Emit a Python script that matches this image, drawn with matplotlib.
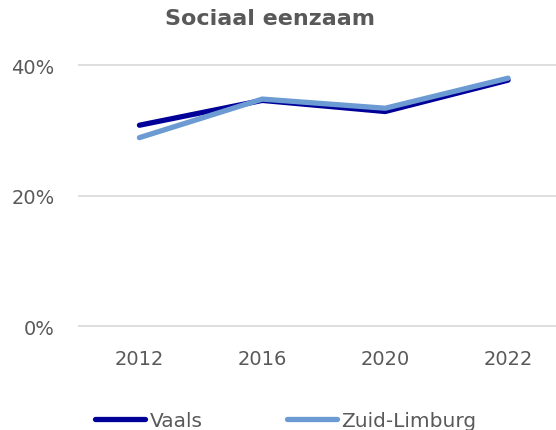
import matplotlib
matplotlib.use('Agg')
import matplotlib.pyplot as plt

years = ["2012", "2016", "2020", "2022"]
vaals = [30.8, 34.6, 32.9, 37.7]
zuid_limburg = [28.9, 34.8, 33.4, 38.0]

text_color = "#595959"
grid_color = "#d9d9d9"

fig = plt.figure(figsize=(5.56, 4.31), dpi=100)
ax = fig.add_axes([78 / 556, (431 - 328.8) / 431, 1 - 78 / 556, 264 / 431])

x = range(len(years))
ax.plot(x, vaals, color="#000099", linewidth=3.8, solid_capstyle="round", label="Vaals")
ax.plot(x, zuid_limburg, color="#6b9bd2", linewidth=3.8, solid_capstyle="round", label="Zuid-Limburg")

ax.set_xlim(-0.5, 3.39)
ax.set_ylim(-0.2, 40.2)
ax.set_yticks([0, 20, 40])
ax.set_yticklabels(["0%", "20%", "40%"])
ax.set_xticks(list(x))
ax.set_xticklabels(years)
ax.tick_params(axis="both", length=0, labelsize=14, labelcolor=text_color)
ax.tick_params(axis="x", pad=15)
ax.tick_params(axis="y", pad=17)
ax.grid(axis="y", color=grid_color, linewidth=1.2)
ax.set_axisbelow(True)
for s in ax.spines.values():
    s.set_visible(False)

fig.text(0.486, 0.957, "Sociaal eenzaam", ha="center", va="center",
         fontsize=16, fontweight="bold", color=text_color)

leg = fig.legend(loc="center", bbox_to_anchor=(0.514, 0.022), ncol=2, frameon=False,
                 fontsize=14.5, handlelength=2.5, handletextpad=0.2, columnspacing=4.2,
                 labelcolor=text_color)

fig.savefig("out.png", dpi=100)
